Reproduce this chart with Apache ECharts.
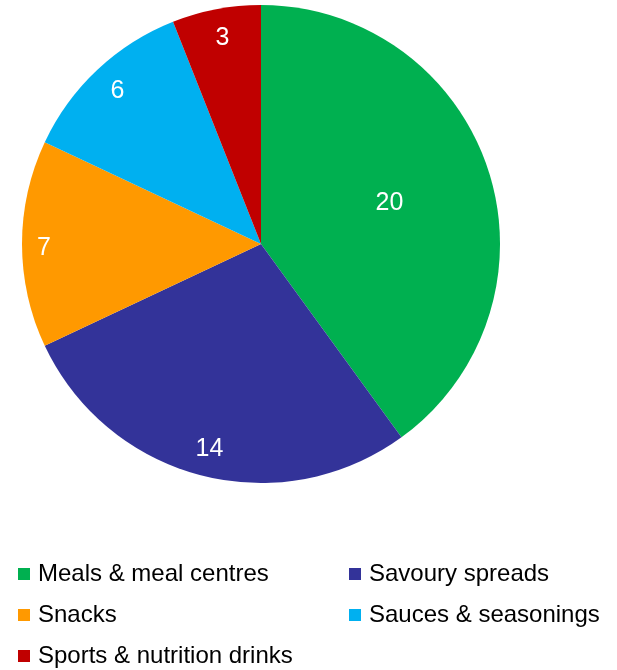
<!DOCTYPE html>
<html>
<head>
<meta charset="utf-8">
<script src="https://cdn.jsdelivr.net/npm/echarts@6/dist/echarts.min.js"></script>
<style>
  html, body { margin: 0; padding: 0; background: #fff; }
  #chart { width: 617px; height: 670px; }
</style>
</head>
<body>
<div id="chart"></div>
<script>
// Product categories and counts
const categories = ['Meals & meal centres', 'Savoury spreads', 'Snacks', 'Sauces & seasonings', 'Sports & nutrition drinks'];
const counts = [20, 14, 7, 6, 3];
const colors = ['#00B050', '#333399', '#FF9900', '#00B0F0', '#C00000'];

const font = 'Liberation Sans, Arial, sans-serif';
const center = [261, 244];
const outerR = 239;

const sliceData = categories.map((name, i) => ({
  name: name,
  value: counts[i],
  itemStyle: { color: colors[i] }
}));

// Transparent overlay rings carry the value labels at two depths
function labelRing(showIdx) {
  return categories.map((name, i) => ({
    name: name,
    value: counts[i],
    itemStyle: { color: 'rgba(0,0,0,0)' },
    label: { show: showIdx(i), offset: i === 2 ? [-6, 4] : [1, 1] }
  }));
}

const labelStyle = {
  position: 'inside',
  formatter: '{c}',
  color: '#ffffff',
  fontFamily: font,
  fontSize: 25
};

const legendCommon = {
  orient: 'vertical',
  icon: 'rect',
  itemWidth: 12,
  itemHeight: 12,
  itemGap: 17,
  padding: 0,
  height: 110,
  selectedMode: false,
  textStyle: { fontFamily: font, fontSize: 24, color: '#000', lineHeight: 24, padding: [0, 0, 0, 3] }
};

const chart = echarts.init(document.getElementById('chart'));
chart.setOption({
  animation: false,
  legend: [
    Object.assign({}, legendCommon, {
      left: 18, top: 562,
      data: [categories[0], categories[2], categories[4]]
    }),
    Object.assign({}, legendCommon, {
      left: 349, top: 562,
      data: [categories[1], categories[3]]
    })
  ],
  series: [
    {
      type: 'pie',
      center: center,
      radius: [0, outerR],
      startAngle: 90,
      clockwise: true,
      silent: true,
      label: { show: false },
      labelLine: { show: false },
      data: sliceData
    },
    {
      type: 'pie',
      center: center,
      radius: [23, outerR],
      startAngle: 90,
      clockwise: true,
      silent: true,
      label: labelStyle,
      labelLine: { show: false },
      data: labelRing(i => i === 0)
    },
    {
      type: 'pie',
      center: center,
      radius: [177, outerR],
      startAngle: 90,
      clockwise: true,
      silent: true,
      label: labelStyle,
      labelLine: { show: false },
      data: labelRing(i => i !== 0)
    }
  ]
});
</script>
</body>
</html>
